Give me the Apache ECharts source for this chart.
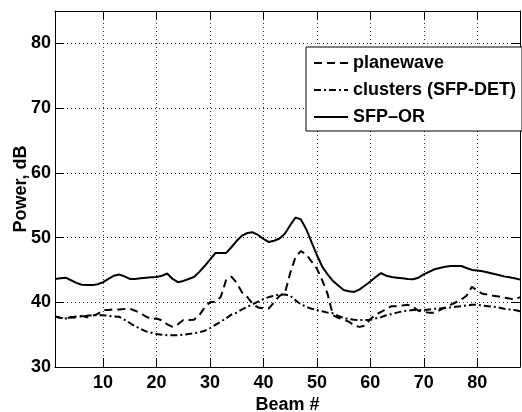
<!DOCTYPE html>
<html><head><meta charset="utf-8">
<script src="https://cdn.jsdelivr.net/npm/echarts@6/dist/echarts.min.js"></script>
<style>html,body{margin:0;padding:0;background:#fff}#c{width:522px;height:412px}</style>
</head><body><div id="c"></div>
<script>
const beams = [1,2,3,4,5,6,7,8,9,10,11,12,13,14,15,16,17,18,19,20,21,22,23,24,25,26,27,28,29,30,31,32,33,34,35,36,37,38,39,40,41,42,43,44,45,46,47,48,49,50,51,52,53,54,55,56,57,58,59,60,61,62,63,64,65,66,67,68,69,70,71,72,73,74,75,76,77,78,79,80,81,82,83,84,85,86,87,88];
const planewave = [37.8,37.6,37.5,37.7,37.6,37.9,37.7,37.9,38.2,38.8,
  38.8,38.9,38.9,38.95,39.0,38.7,38.3,37.8,37.4,37.5,
  37.2,36.6,36.2,36.6,37.25,37.25,37.3,38.0,39.2,40.0,
  40.1,40.8,43.4,43.95,43.0,41.5,40.8,39.7,39.2,39.05,
  39.05,40.0,41.0,41.4,44.5,47.0,47.9,47.4,46.3,45.2,
  43.4,41.3,38.0,37.6,37.3,37.0,36.4,36.2,36.4,37.4,
  38.1,38.5,39.0,39.4,39.4,39.5,39.6,39.3,38.7,38.5,
  38.4,38.4,38.8,39.2,39.6,40.0,40.4,41.0,42.4,41.8,
  41.3,41.2,41.0,40.9,40.7,40.6,40.4,40.8];
const clusters = [37.8,37.6,37.5,37.7,37.8,37.8,37.9,38.0,38.0,38.0,
  37.9,37.8,37.75,37.3,36.8,36.3,35.9,35.5,35.3,35.1,
  35.0,34.9,34.9,34.9,35.0,35.1,35.2,35.35,35.6,36.0,
  36.5,37.0,37.5,38.1,38.4,38.9,39.3,39.7,40.1,40.5,
  40.8,41.0,41.2,41.2,41.0,40.3,39.7,39.3,39.0,38.8,
  38.6,38.4,38.3,37.9,37.6,37.4,37.3,37.25,37.25,37.3,
  37.5,37.7,38.0,38.2,38.4,38.6,38.7,38.8,38.8,38.8,
  38.9,39.0,39.05,39.1,39.2,39.3,39.4,39.5,39.6,39.6,
  39.5,39.4,39.3,39.2,39.0,38.9,38.8,38.6];
const sfpOr = [43.6,43.7,43.8,43.4,43.0,42.7,42.65,42.65,42.8,43.1,
  43.6,44.1,44.3,44.0,43.6,43.6,43.7,43.8,43.85,43.9,
  44.1,44.45,43.6,43.1,43.3,43.6,43.9,44.7,45.6,46.6,
  47.6,47.6,47.6,48.5,49.5,50.3,50.7,50.8,50.4,49.8,
  49.3,49.5,49.85,50.6,51.9,53.1,52.8,51.3,49.3,47.3,
  45.5,44.3,43.3,42.6,41.9,41.7,41.6,42.0,42.6,43.2,
  43.9,44.5,44.1,43.9,43.8,43.7,43.6,43.55,43.8,44.3,
  44.7,45.1,45.3,45.5,45.6,45.6,45.6,45.3,45.0,44.9,
  44.8,44.6,44.4,44.2,44.0,43.85,43.7,43.5];
const xTicks = [10,20,30,40,50,60,70,80];
const yTicks = [30,40,50,60,70,80];
const seriesNames = ['planewave','clusters (SFP-DET)','SFP\u2013OR'];

const font = '"Liberation Sans", Arial, Helvetica, sans-serif';
const chart = echarts.init(document.getElementById('c'), null, {renderer:'canvas'});
const pair = a => beams.map((b,i)=>[b,a[i]]);
const lab = {fontFamily:font,fontSize:18,fontWeight:'bold',color:'#000'};
const axLine = {show:true,onZero:false,lineStyle:{color:'#000',width:1}};
const grid = {show:true,lineStyle:{color:'#333',width:1,type:[1,3]}};
chart.setOption({
  animation:false,
  backgroundColor:'#fff',
  textStyle:{fontFamily:font},
  grid:{left:55,right:2,top:11,bottom:45,containLabel:false,outerBoundsMode:'none'},
  xAxis:[
    {type:'value',min:1,max:88,position:'bottom',name:'Beam #',nameLocation:'middle',nameGap:29,
     nameMoveOverlap:false,
     nameTextStyle:lab,axisLine:axLine,
     axisTick:{show:true,inside:true,length:9,customValues:xTicks,lineStyle:{color:'#000'}},
     axisLabel:Object.assign({customValues:xTicks,margin:7},lab),splitLine:grid},
    {type:'value',min:1,max:88,position:'top',axisLine:axLine,
     axisTick:{show:true,inside:true,length:9,customValues:xTicks,lineStyle:{color:'#000'}},
     axisLabel:{show:false},splitLine:{show:false}}
  ],
  yAxis:[
    {type:'value',min:30,max:85,position:'left',name:'Power, dB',nameLocation:'middle',nameGap:25,
     nameMoveOverlap:false,
     nameTextStyle:lab,axisLine:axLine,
     axisTick:{show:true,inside:true,length:9,customValues:yTicks,lineStyle:{color:'#000'}},
     axisLabel:Object.assign({customValues:yTicks,margin:4},lab),splitLine:grid},
    {type:'value',min:30,max:85,position:'right',axisLine:axLine,
     axisTick:{show:true,inside:true,length:9,customValues:yTicks,lineStyle:{color:'#000'}},
     axisLabel:{show:false},splitLine:{show:false}}
  ],
  legend:{left:306,top:47,orient:'vertical',itemWidth:34,itemHeight:18,itemGap:9,
    padding:[7,6,5,7],borderColor:'#000',borderWidth:1,backgroundColor:'#fff',
    itemStyle:{opacity:0},
    textStyle:Object.assign({lineHeight:18},lab),data:seriesNames},
  series:[
    {name:seriesNames[0],type:'line',data:pair(planewave),symbol:'none',
     lineStyle:{color:'#000',width:2,type:[8,5]},itemStyle:{color:'#000'}},
    {name:seriesNames[1],type:'line',data:pair(clusters),symbol:'none',
     lineStyle:{color:'#000',width:2,type:[7,3,2,3]},itemStyle:{color:'#000'}},
    {name:seriesNames[2],type:'line',data:pair(sfpOr),symbol:'none',
     lineStyle:{color:'#000',width:2,type:'solid'},itemStyle:{color:'#000'}}
  ]
});
</script></body></html>
